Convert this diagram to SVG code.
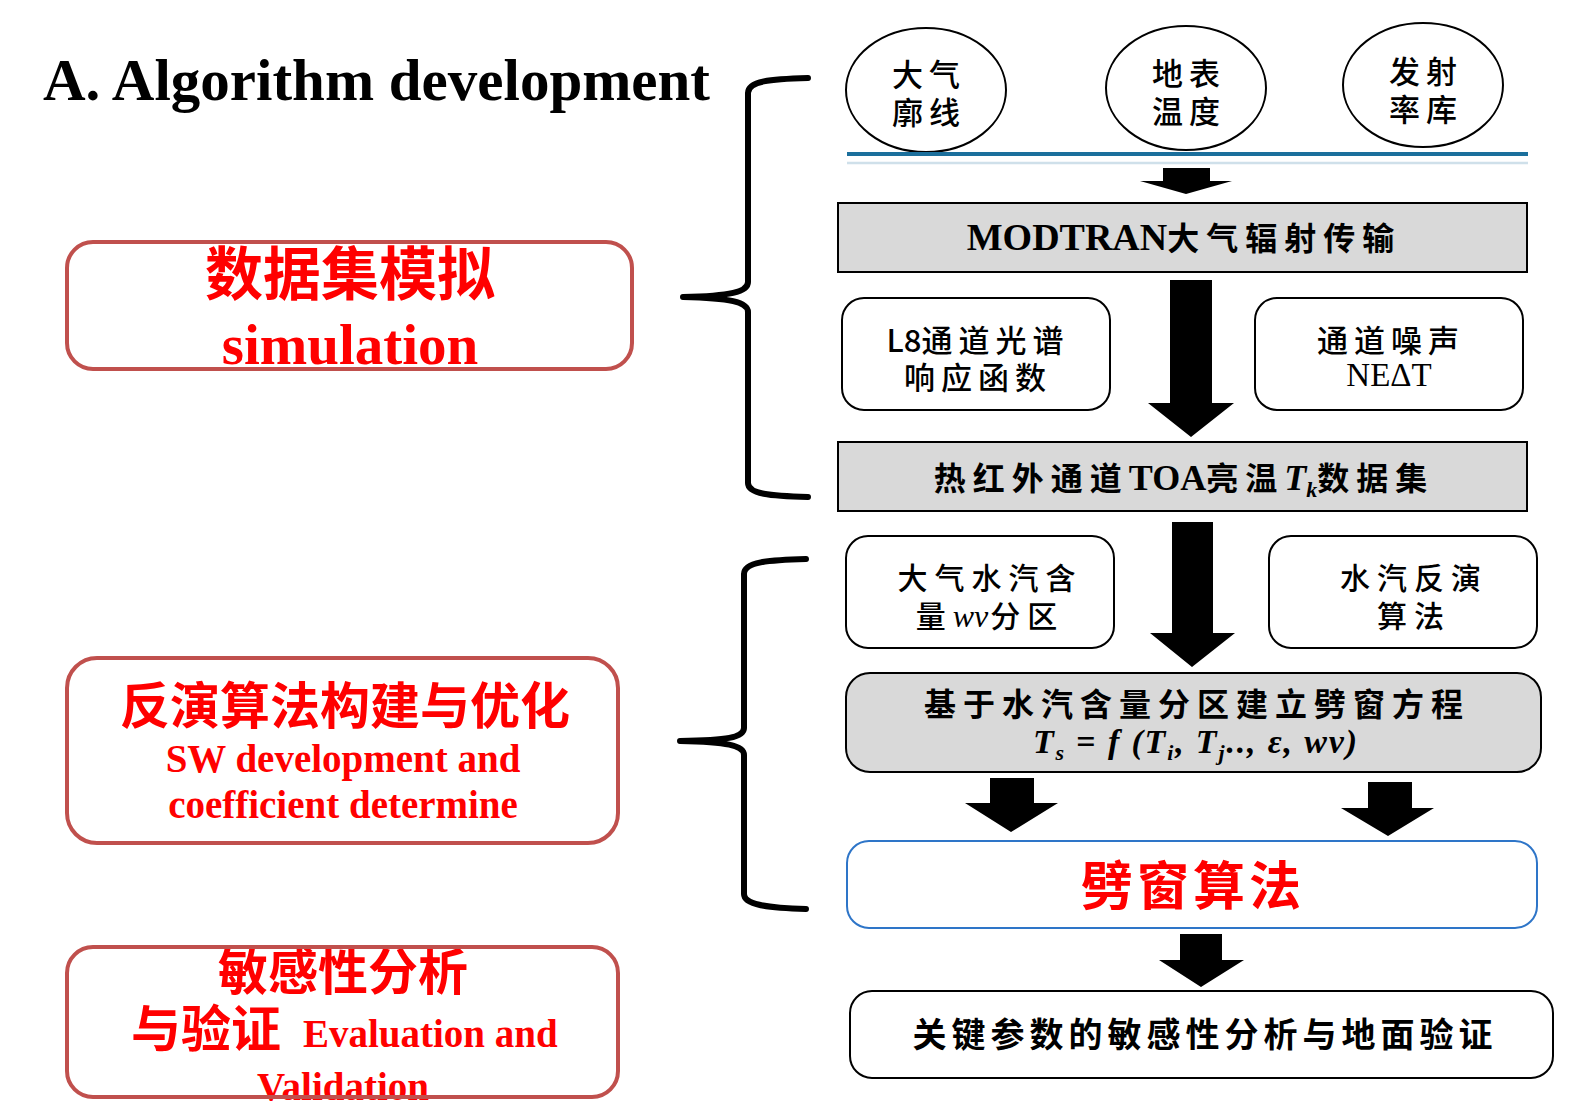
<svg xmlns="http://www.w3.org/2000/svg" width="1583" height="1113" viewBox="0 0 1583 1113">
<style>
.cjk{font-family:"Noto Sans CJK SC","Noto Sans",sans-serif;}
.ser{font-family:"Liberation Serif","Noto Sans CJK SC",serif;}
.red{fill:#ff0000;font-weight:bold;}
.lbox{fill:#ffffff;stroke:#c0504d;stroke-width:4;}
.wbox{fill:#ffffff;stroke:#000000;stroke-width:2;}
.gbox{fill:#d9d9d9;stroke:#000000;stroke-width:2;}
.circ{fill:#ffffff;stroke:#000000;stroke-width:2;}
.t32{font-size:31px;letter-spacing:6px;fill:#000;font-weight:500;}
.t29{font-size:30px;letter-spacing:7px;fill:#000;font-weight:500;}
.brace{fill:none;stroke:#000;stroke-width:6;stroke-linecap:round;stroke-linejoin:round;}
.arr{fill:#000;}
</style>
<rect x="0" y="0" width="1583" height="1113" fill="#ffffff"/>

<text id="title" class="ser" x="43" y="100" font-size="60" font-weight="bold" textLength="667" lengthAdjust="spacingAndGlyphs">A. Algorithm development</text>

<g id="label-simulation">
<rect class="lbox" x="67" y="242" width="565" height="127" rx="26"/>
<text class="red" text-anchor="middle"><tspan class="cjk" x="350" y="295" font-size="58">数据集模拟</tspan><tspan class="ser" x="350" y="364" font-size="57">simulation</tspan></text>
</g>

<g id="label-sw">
<rect class="lbox" x="67" y="658" width="551" height="185" rx="30"/>
<text class="red" text-anchor="middle"><tspan class="cjk" x="345" y="724" font-size="50">反演算法构建与优化</tspan><tspan class="ser" x="343" y="772" font-size="39">SW development and</tspan><tspan class="ser" x="343" y="818" font-size="39">coefficient determine</tspan></text>
</g>

<g id="label-eval">
<text class="red"><tspan class="cjk" x="343" y="990" font-size="50" text-anchor="middle">敏感性分析</tspan><tspan class="cjk" x="131" y="1047" font-size="50">与验证</tspan><tspan class="ser" x="303" y="1047" font-size="39">Evaluation and</tspan><tspan class="ser" x="343" y="1100" font-size="39" text-anchor="middle">Validation</tspan></text>
<rect class="lbox" x="67" y="947" width="551" height="150" rx="26" style="fill:none"/>
</g>

<g id="circle-atm">
<ellipse class="circ" cx="926" cy="90" rx="80" ry="62"/>
<text class="cjk t32" text-anchor="middle"><tspan x="929" y="86">大气</tspan><tspan x="929" y="124">廓线</tspan></text>
</g>
<g id="circle-lst">
<ellipse class="circ" cx="1186" cy="88" rx="80" ry="62"/>
<text class="cjk t32" text-anchor="middle"><tspan x="1189" y="85">地表</tspan><tspan x="1189" y="123">温度</tspan></text>
</g>
<g id="circle-emis">
<ellipse class="circ" cx="1423" cy="85" rx="80" ry="62"/>
<text class="cjk t32" text-anchor="middle"><tspan x="1426" y="83">发射</tspan><tspan x="1426" y="121">率库</tspan></text>
</g>

<g id="baseline">
<line x1="847" y1="154" x2="1528" y2="154" stroke="#1b6f9c" stroke-width="4"/>
<line x1="847" y1="163" x2="1528" y2="163" stroke="#cfe0ea" stroke-width="2.5"/>
</g>

<g id="modtran">
<rect class="gbox" x="838" y="203" width="689" height="69"/>
<text x="1184" y="250" text-anchor="middle" font-weight="bold"><tspan class="ser" font-size="38">MODTRAN</tspan><tspan class="cjk" font-size="32" letter-spacing="7">大气辐射传输</tspan></text>
</g>

<g id="srf">
<rect class="wbox" x="842" y="298" width="268" height="112" rx="22"/>
<text class="cjk t32" text-anchor="middle"><tspan x="978" y="352"><tspan letter-spacing="0">L8</tspan>通道光谱</tspan><tspan x="978" y="389">响应函数</tspan></text>
</g>

<g id="noise">
<rect class="wbox" x="1255" y="298" width="268" height="112" rx="22"/>
<text class="t32" text-anchor="middle"><tspan class="cjk" x="1391" y="352">通道噪声</tspan><tspan class="ser" x="1389" y="386" font-size="33" font-weight="normal" letter-spacing="0">NEΔT</tspan></text>
</g>

<g id="toa">
<rect class="gbox" x="838" y="442" width="689" height="69"/>
<text x="1184" y="490" text-anchor="middle" font-weight="bold" font-size="32"><tspan class="cjk" letter-spacing="7">热红外通道</tspan><tspan class="ser" font-size="36">TOA</tspan><tspan class="cjk" letter-spacing="7">亮温</tspan><tspan class="ser" font-style="italic" font-size="36">T</tspan><tspan class="ser" font-style="italic" font-size="22" dy="7">k</tspan><tspan class="cjk" dy="-7" letter-spacing="7">数据集</tspan></text>
</g>

<g id="wv-zone">
<rect class="wbox" x="846" y="536" width="268" height="112" rx="22"/>
<text class="t29" text-anchor="middle"><tspan class="cjk" x="990" y="589">大气水汽含</tspan><tspan x="990" y="627"><tspan class="cjk">量</tspan><tspan class="ser" font-style="italic" font-weight="normal" font-size="32" letter-spacing="0">wv</tspan><tspan class="cjk" dx="2">分区</tspan></tspan></text>
</g>

<g id="wv-retrieval">
<rect class="wbox" x="1269" y="536" width="268" height="112" rx="22"/>
<text class="cjk t29" text-anchor="middle"><tspan x="1414" y="589">水汽反演</tspan><tspan x="1414" y="627">算法</tspan></text>
</g>

<g id="sw-equation">
<rect class="gbox" x="846" y="673" width="695" height="99" rx="24"/>
<text text-anchor="middle"><tspan class="cjk" x="1197" y="716" font-weight="bold" font-size="32" letter-spacing="7">基于水汽含量分区建立劈窗方程</tspan></text>
<text class="ser" x="1033" y="753" font-weight="bold" font-style="italic" font-size="34" textLength="324" lengthAdjust="spacing">T<tspan font-size="22" dy="7">s</tspan><tspan dy="-7" font-style="normal"> = </tspan>f (T<tspan font-size="22" dy="7">i</tspan><tspan dy="-7">, T</tspan><tspan font-size="22" dy="7">j</tspan><tspan dy="-7">.., ε, wv)</tspan></text>
</g>

<g id="split-window">
<rect x="847" y="841" width="690" height="87" rx="22" fill="#ffffff" stroke="#2e75c8" stroke-width="2"/>
<text class="cjk red" x="1193" y="905" text-anchor="middle" font-size="52" letter-spacing="4">劈窗算法</text>
</g>

<g id="validation">
<rect class="wbox" x="850" y="991" width="703" height="87" rx="22"/>
<text class="cjk" x="1205" y="1047" text-anchor="middle" font-weight="bold" font-size="34" letter-spacing="5">关键参数的敏感性分析与地面验证</text>
</g>

<g id="connectors">
<path class="brace" d="M808,78 C770,79 748,81 748,93 L748,282 C748,292 730,296 683,297 C730,298 748,302 748,312 L748,483 C748,494 770,496 808,497"/>
<path class="brace" d="M806,559 C768,560 744,562 744,574 L744,728 C744,738 726,740 680,741 C726,742 744,745 744,755 L744,894 C744,905 768,908 806,909"/>
<path class="arr" d="M1163,168 H1210 V181 H1232 L1186,194 L1140,181 H1163 Z"/>
<path class="arr" d="M1170,280 H1212 V403 H1234 L1191,437 L1148,403 H1170 Z"/>
<path class="arr" d="M1172,522 H1213 V633 H1235 L1192,667 L1150,633 H1172 Z"/>
<path class="arr" d="M990,778 H1034 V803 H1058 L1011,832 L965,803 H990 Z"/>
<path class="arr" d="M1368,782 H1412 V808 H1434 L1388,836 L1341,808 H1368 Z"/>
<path class="arr" d="M1180,934 H1222 V960 H1244 L1201,987 L1159,960 H1180 Z"/>
</g>
</svg>
